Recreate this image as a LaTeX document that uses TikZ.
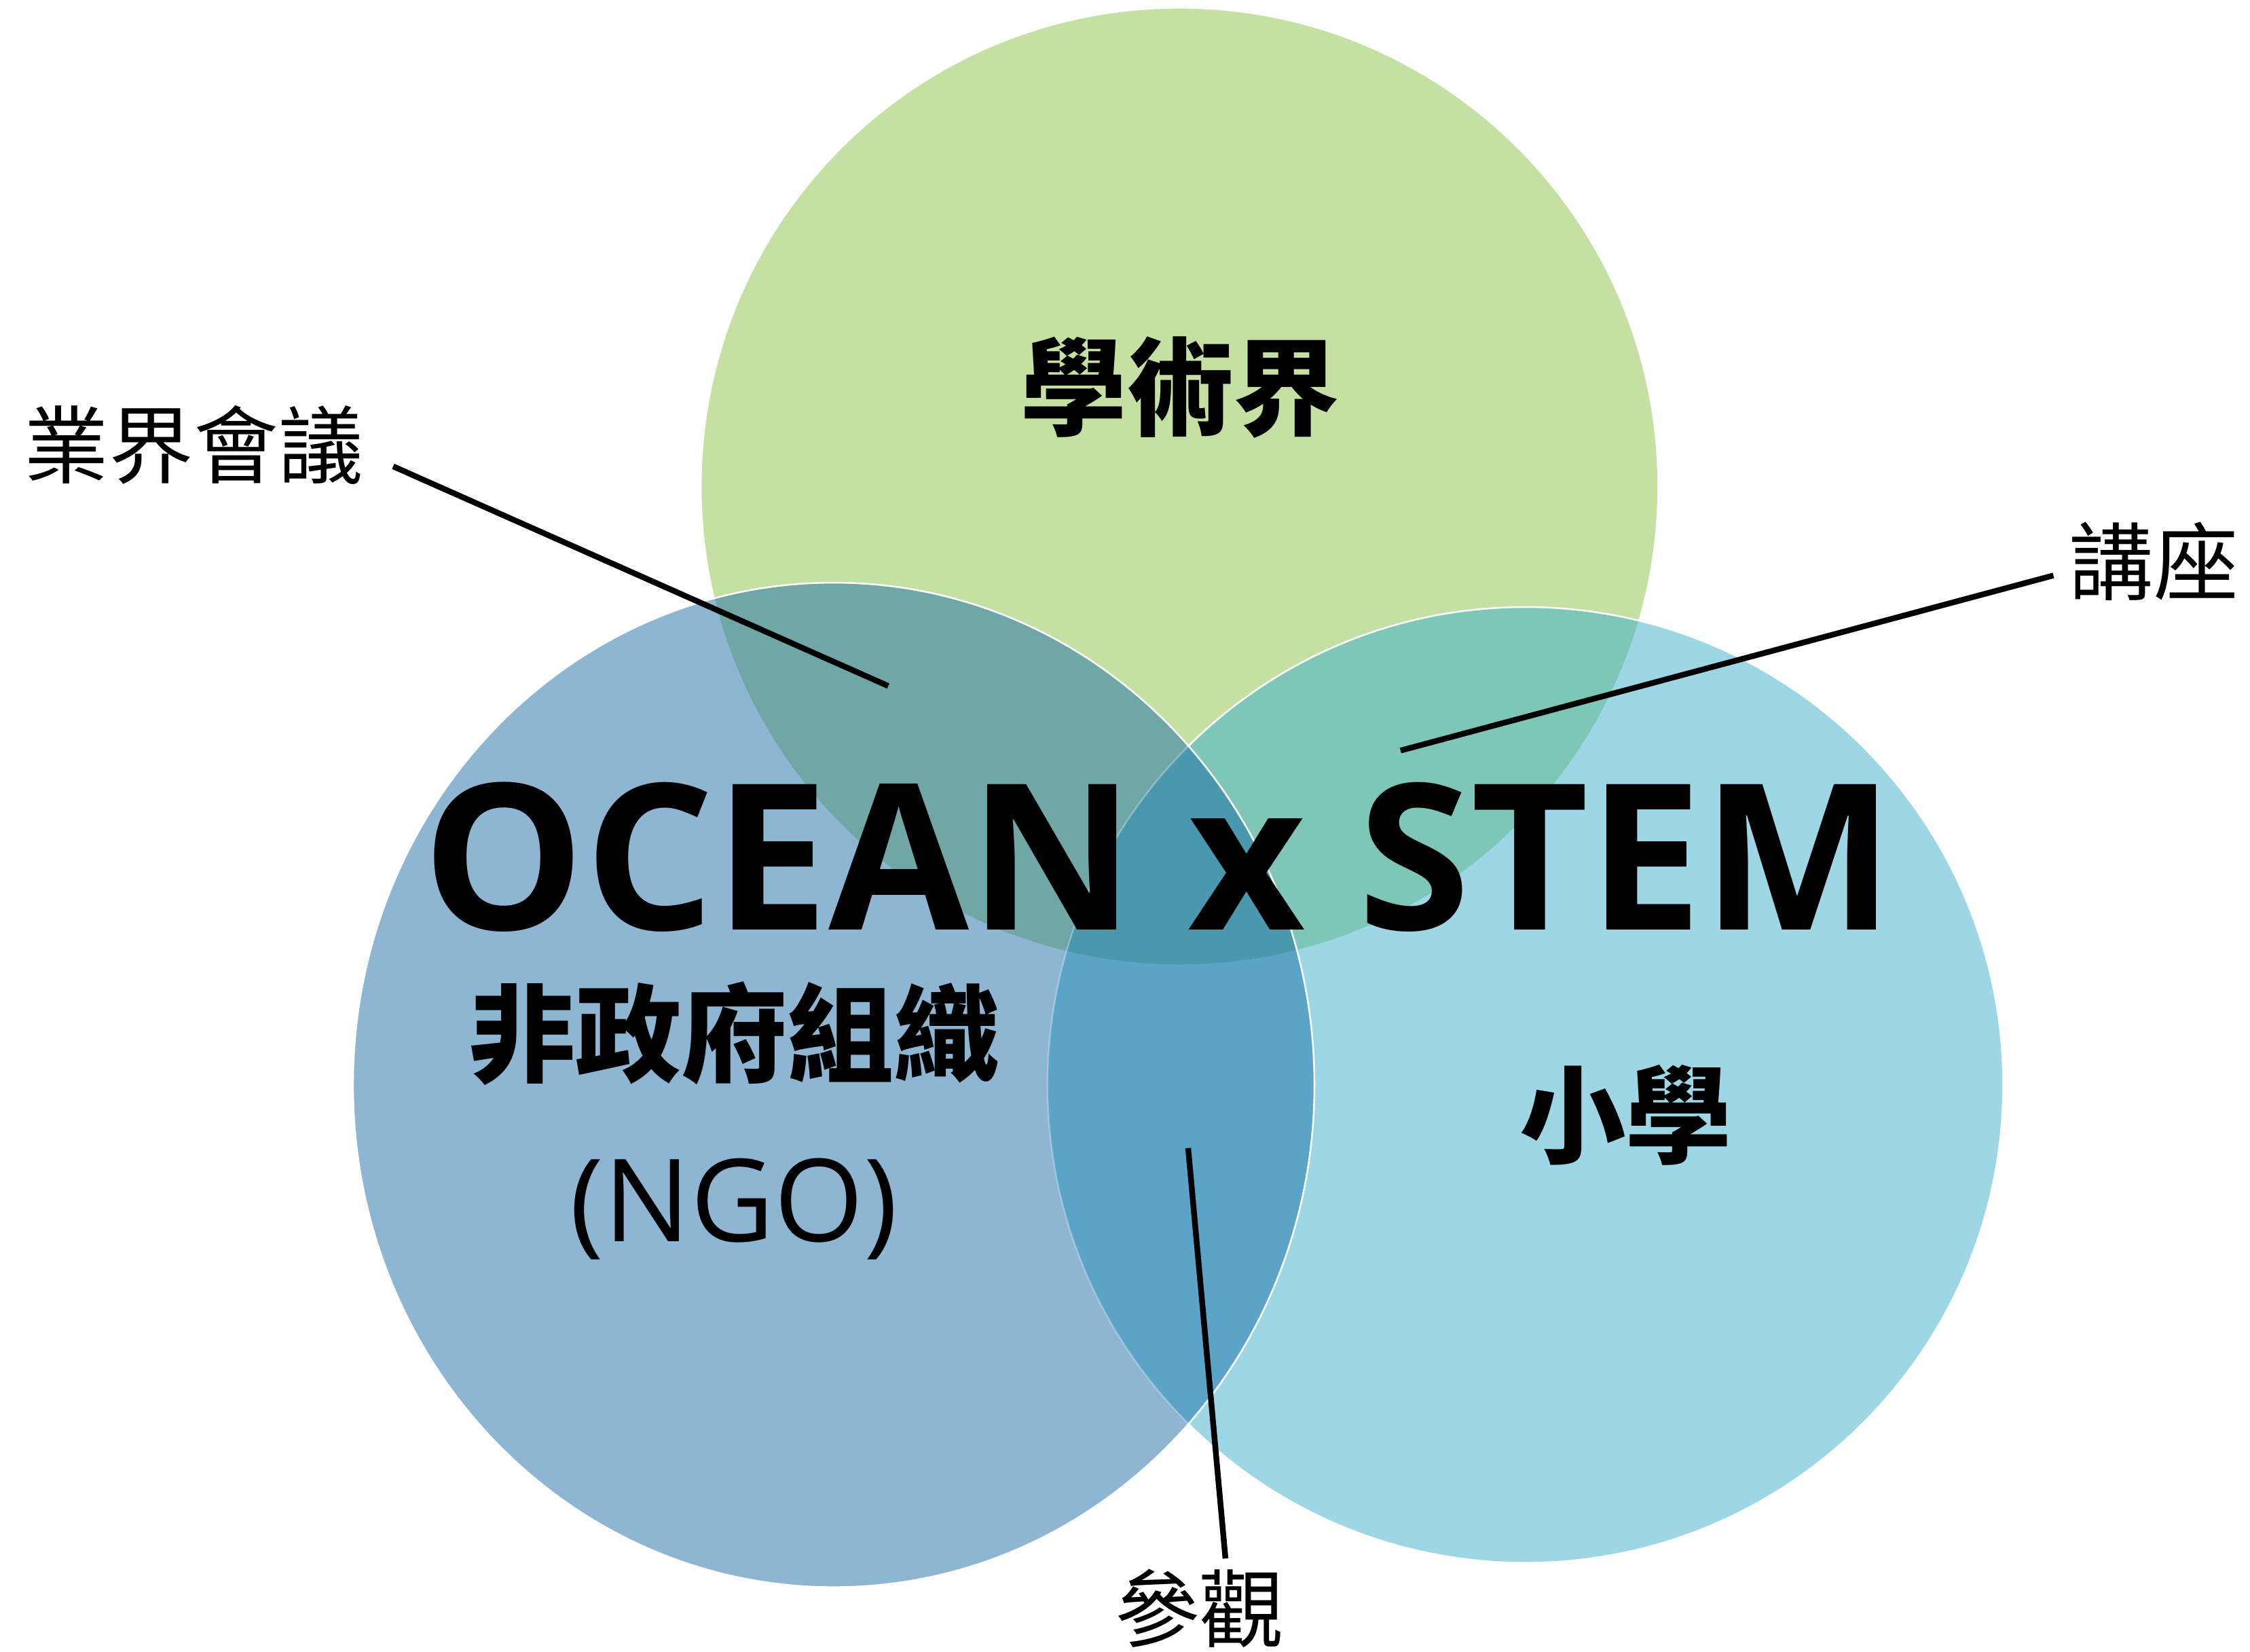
\documentclass[tikz,border=0pt]{standalone}
\usepackage{fontspec}
\newfontfamily\cjk{Noto Sans CJK TC}
\newfontfamily\osans{Open Sans}
\definecolor{cG}{HTML}{C5E0A3}
\definecolor{cB}{HTML}{8EB5D2}
\definecolor{cL}{HTML}{9DD6E5}
\definecolor{cGB}{HTML}{71A6A7}
\definecolor{cGL}{HTML}{7DC6B8}
\definecolor{cBL}{HTML}{5BA3C7}
\definecolor{cGBL}{HTML}{4A98AE}
\begin{document}
\begin{tikzpicture}[x=1pt,y=-1pt,
  conn/.style={black,line width=4pt},
  bigcjk/.style={inner sep=0pt,font=\cjk\bfseries\fontsize{74}{80}\selectfont},
  labcjk/.style={inner sep=0pt,font=\cjk\fontsize{59}{64}\selectfont},
  outl/.style={white,line width=1.2pt}]
\useasboundingbox (0,0) rectangle (1568,1151);
\fill[white] (0,0) rectangle (1568,1151);
\def\G{(822,339) circle[radius=333]}
\def\L{(1063,756) circle[radius=333]}
\def\B{(581,756) ellipse[x radius=335, y radius=350]}
% single regions
\fill[cG] \G;
\fill[cL] \L;
\fill[cB] \B;
% pairwise overlaps
\begin{scope}\clip \G; \fill[cGB] \B; \end{scope}
\begin{scope}\clip \G; \fill[cGL] \L; \end{scope}
\begin{scope}\clip \L; \fill[cBL] \B; \end{scope}
\begin{scope}\clip \G; \clip \L; \fill[cGBL] \B; \end{scope}
% outlines
\begin{scope}[even odd rule]
  \clip (0,0) rectangle (1568,1151) \B;
  \draw[outl] \L;
\end{scope}
\begin{scope}\clip \B; \draw[outl,opacity=0.3] \L; \end{scope}
\draw[outl] \B;
% texts
\node[bigcjk] (t1) at (822.5,270) {學術界};
\node[bigcjk] (t2) at (512,720) {非政府組織};
\node[bigcjk] (t3) at (1133,777) {小學};
\node[inner sep=0pt,anchor=base,font=\osans\fontsize{80}{90}\selectfont] (t4) at (511.5,865) {(NGO)};
\node[inner sep=0pt,anchor=base,font=\osans\bfseries\fontsize{142}{160}\selectfont] (title) at (807.5,648) {OCEAN x STEM};
\node[labcjk] (lbl1) at (135,310) {業界會議};
\node[labcjk] (lbl2) at (1501,391) {講座};
\node[labcjk] (lbl3) at (836,1121) {參觀};
% connectors
\coordinate (a1) at (274,325);
\coordinate (b1) at (619,478);
\coordinate (a2) at (1431,401);
\coordinate (b2) at (976,523);
\coordinate (a3) at (854,1086);
\coordinate (b3) at (828,800);
\draw[conn] (a1) -- (b1);
\draw[conn] (a2) -- (b2);
\draw[conn] (a3) -- (b3);
\end{tikzpicture}
\end{document}
